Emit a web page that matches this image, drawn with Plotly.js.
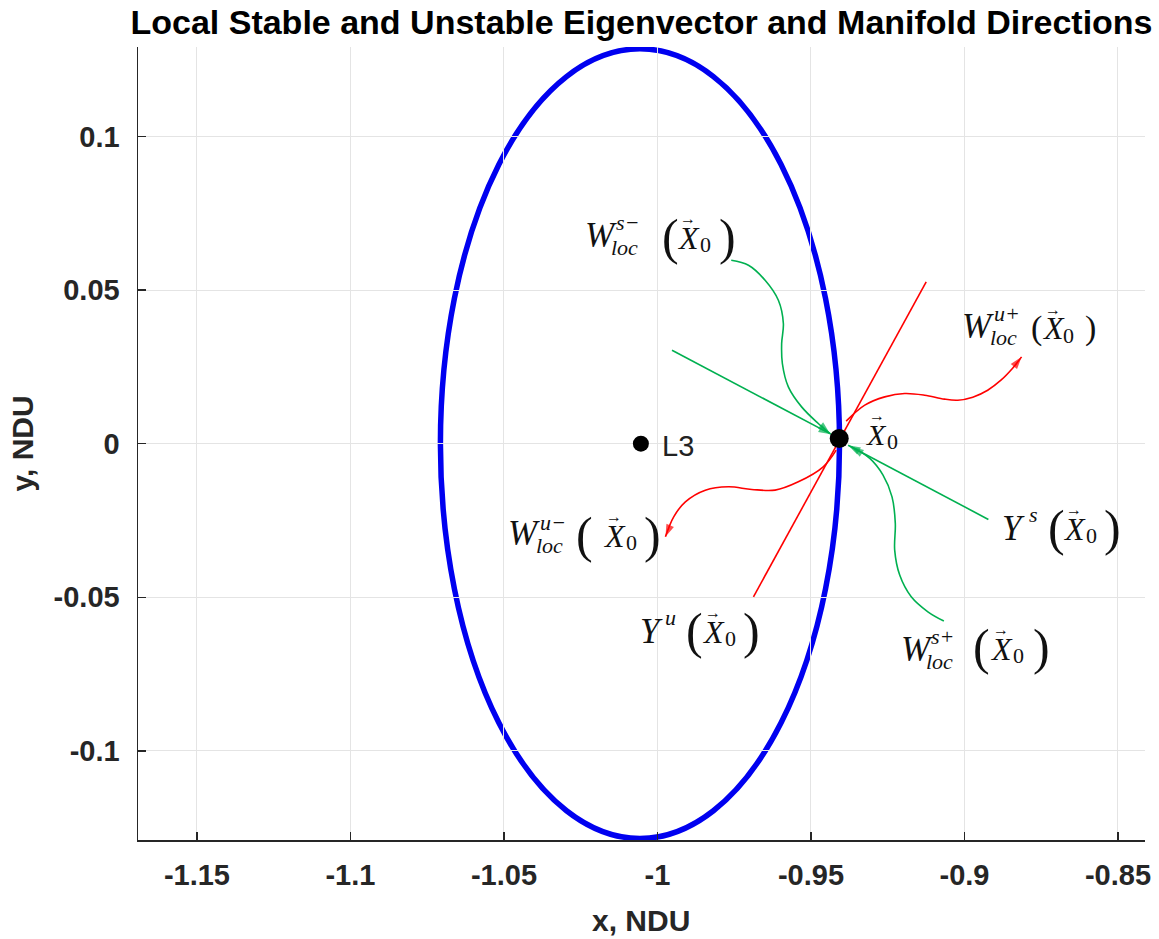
<!DOCTYPE html>
<html><head><meta charset="utf-8">
<script src="https://cdn.plot.ly/plotly-3.0.1.min.js"></script>
<style>body{margin:0;background:#fff}#chart{width:1159px;height:939px}</style>
</head><body><div id="chart"></div>
<script>
// ---- data ----
const xTickVals = [-1.15, -1.1, -1.05, -1, -0.95, -0.9, -0.85];
const xTickText = ['-1.15', '-1.1', '-1.05', '-1', '-0.95', '-0.9', '-0.85'];
const yTickVals = [-0.1, -0.05, 0, 0.05, 0.1];
const yTickText = ['-0.1', '-0.05', '0', '0.05', '0.1'];

const orbitX = [-1.0707, -0.9407];   // x extent of the periodic orbit
const orbitY = [-0.1285, 0.1285];    // y extent of the periodic orbit

const l3X = [-1.0054], l3Y = [0];
const x0X = [-0.9408], x0Y = [0.0017];

const unstableX = [-0.96873, -0.91247];
const unstableY = [-0.04984, 0.05263];

const stableAX = [-0.99526, -0.94351];
const stableAY = [0.03042, 0.00309];
const stableBX = [-0.89221, -0.93789];
const stableBY = [-0.02466, -0.0005];

const wsMinusX = [-0.97597, -0.97036, -0.96494, -0.96062, -0.95899, -0.95955, -0.95932, -0.95737, -0.95305, -0.94763, -0.94383];
const wsMinusY = [0.05969, 0.05807, 0.05319, 0.04669, 0.0391, 0.0326, 0.02609, 0.01848, 0.01197, 0.00657, 0.00332];

const wsPlusX = [-0.90672, -0.91192, -0.91734, -0.9211, -0.92273, -0.92253, -0.9236, -0.92653, -0.93084, -0.93682];
const wsPlusY = [-0.05774, -0.05472, -0.04984, -0.04278, -0.03465, -0.02596, -0.01731, -0.01025, -0.00481, -0.00104];

const wuPlusX = [-0.93854, -0.93247, -0.92597, -0.91948, -0.91299, -0.90649, -0.90218, -0.8973, -0.89244, -0.88812, -0.88432, -0.8814];
const wuPlusY = [0.00732, 0.01252, 0.01522, 0.01633, 0.01578, 0.01448, 0.01415, 0.01513, 0.0174, 0.02066, 0.02456, 0.02824];

const wuMinusX = [-0.94179, -0.94601, -0.95412, -0.96169, -0.96929, -0.97685, -0.98442, -0.99091, -0.99471, -0.9974];
const wuMinusY = [-0.00211, -0.00755, -0.01243, -0.01513, -0.0149, -0.01405, -0.01513, -0.01893, -0.02381, -0.03032];

// label anchors (data coords of the left/middle of the leading glyph)
const labelAnchorX = [-1.02393, -1.04893, -0.9012, -0.92101, -0.88821, -1.00607, -0.93237, -0.99893];
const labelAnchorY = [0.06783, -0.02911, 0.03822, -0.06685, -0.02749, -0.061, 0.00309, -0.0008];

// ---- styles ----
const RED = '#ff0000', GREEN = '#00b050', BLUE = '#0000f0';
const SERIF = 'Liberation Serif, Times New Roman, serif';
const SANS = 'Liberation Sans, Arial, sans-serif';
const AX = '#262626';

function arrowTrace(xs, ys, color, head) {
  const n = xs.length;
  const t = {
    x: xs, y: ys, type: 'scatter', mode: head ? 'lines+markers' : 'lines',
    line: {color: color, width: 1.6, shape: 'spline', smoothing: 1},
    hoverinfo: 'skip', showlegend: false
  };
  if (head) {
    t.marker = {symbol: 'arrow', angleref: 'previous', color: color,
      size: xs.map((v, i) => i === n - 1 ? 13 : 0), line: {width: 0}};
  }
  return t;
}

const traces = [
  arrowTrace(unstableX, unstableY, RED, false),
  arrowTrace(stableAX, stableAY, GREEN, true),
  arrowTrace(stableBX, stableBY, GREEN, true),
  arrowTrace(wsMinusX, wsMinusY, GREEN, true),
  arrowTrace(wsPlusX, wsPlusY, GREEN, true),
  arrowTrace(wuPlusX, wuPlusY, RED, true),
  arrowTrace(wuMinusX, wuMinusY, RED, true),
  {x: l3X, y: l3Y, type: 'scatter', mode: 'markers', marker: {color: '#000', size: 16}, hoverinfo: 'skip', showlegend: false},
  {x: x0X, y: x0Y, type: 'scatter', mode: 'markers', marker: {color: '#000', size: 19}, hoverinfo: 'skip', showlegend: false}
];

// label glyph layouts: [text, dx(px), dy(px, down+), size, style]
const labelParts = [
  [['W',0,0,35,1],['s\u2212',31,-13,22,1],['loc',26,12,22,1],['(',77,2,50,0],['X',92,3,32,1],['\u2192',95,-17,16,0],['0',115,9,22,0],[')',134,2,50,0]],
  [['W',0,0,35,1],['u\u2212',32,-11,22,1],['loc',28,12,22,1],['(',68,2,50,0],['X',95,3,32,1],['\u2192',98,-17,16,0],['0',118,9,22,0],[')',136,2,50,0]],
  [['W',0,0,35,1],['u+',32,-13,22,1],['loc',28,11,22,1],['(',69,2,34,0],['X',80,2,32,1],['\u2192',83,-17,16,0],['0',101,9,22,0],[')',123,2,34,0]],
  [['W',0,0,35,1],['s+',30,-13,22,1],['loc',25,12,22,1],['(',72,-2,50,0],['X',89,0,32,1],['\u2192',92,-20,16,0],['0',112,6,22,0],[')',132,-2,50,0]],
  [['Y',0,0,35,1],['s',27,-14,22,1],['(',46,0,50,0],['X',61,1,32,1],['\u2192',64,-19,16,0],['0',84,7,22,0],[')',102,0,50,0]],
  [['Y',0,0,35,1],['u',25,-14,22,1],['(',46,0,50,0],['X',62,1,32,1],['\u2192',65,-19,16,0],['0',85,7,22,0],[')',103,0,50,0]],
  [['X',0,0,30,1],['\u2192',3,-19,16,0],['0',21,7,22,0]],
  [['L3',0,0,29,2]]
];

const annotations = [];
labelParts.forEach((parts, k) => {
  parts.forEach(p => {
    annotations.push({
      x: labelAnchorX[k], y: labelAnchorY[k], xref: 'x', yref: 'y',
      text: p[0], showarrow: false, xanchor: 'left', yanchor: 'middle',
      xshift: p[1], yshift: -p[2], borderpad: 0,
      font: {family: p[4] === 2 ? SANS : SERIF, size: p[3], color: p[4] === 2 ? '#222' : '#111',
             style: p[4] === 1 ? 'italic' : 'normal'}
    });
  });
});
// axis titles
annotations.push({text: 'x, NDU', xref: 'paper', yref: 'paper', x: (641 - 138) / 1007, y: -(920 - 840) / 793,
  showarrow: false, xanchor: 'center', yanchor: 'middle',
  font: {family: SANS, size: 30, weight: 'bold', color: AX}});
annotations.push({text: 'y, NDU', xref: 'paper', yref: 'paper', x: -(138 - 22) / 1007, y: 0.5,
  showarrow: false, xanchor: 'center', yanchor: 'middle', textangle: -90,
  font: {family: SANS, size: 30, weight: 'bold', color: AX}});

const axisCommon = {
  ticks: 'inside', ticklen: 8, tickwidth: 1.5, tickcolor: AX,
  showline: true, linecolor: AX, linewidth: 1.5, mirror: false,
  showgrid: true, gridcolor: '#e4e4e4', gridwidth: 1, zeroline: false,
  tickfont: {family: SANS, size: 29, weight: 'bold', color: AX},
  tickmode: 'array', fixedrange: true
};

const layout = {
  width: 1159, height: 939,
  margin: {l: 138, r: 14, t: 47, b: 99},
  paper_bgcolor: '#fff', plot_bgcolor: '#fff',
  title: {text: 'Local Stable and Unstable Eigenvector and Manifold Directions',
    x: 0.5, xref: 'paper', y: 1 - 22 / 939, yref: 'container', yanchor: 'middle',
    font: {family: SANS, size: 34, weight: 'bold', color: '#000'}},
  xaxis: Object.assign({}, axisCommon, {range: [-1.1692, -0.8412], tickvals: xTickVals, ticktext: xTickText, ticklabelstandoff: 9}),
  yaxis: Object.assign({}, axisCommon, {range: [-0.1290, 0.1291], tickvals: yTickVals, ticktext: yTickText, ticklabelstandoff: 11}),
  shapes: [{type: 'circle', xref: 'x', yref: 'y', x0: orbitX[0], x1: orbitX[1], y0: orbitY[0], y1: orbitY[1],
    line: {color: BLUE, width: 5.5}, layer: 'below'}],
  annotations: annotations,
  showlegend: false
};

Plotly.newPlot('chart', traces, layout, {displayModeBar: false, staticPlot: true});
</script></body></html>
